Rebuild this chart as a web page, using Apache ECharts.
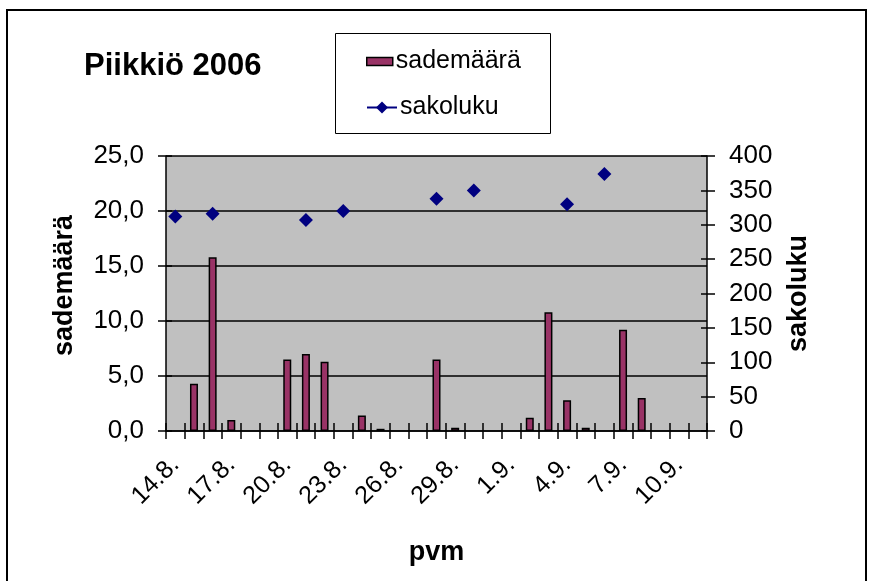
<!DOCTYPE html>
<html>
<head>
<meta charset="utf-8">
<script src="https://cdn.jsdelivr.net/npm/echarts@6/dist/echarts.min.js"></script>
<style>
html,body{margin:0;padding:0;background:#fff;}
#c{width:870px;height:581px;}
</style>
</head>
<body>
<div id="c"></div>
<script>
// Categories: dates 14.8. – 11.9.
const categories = ['14.8.','15.8.','16.8.','17.8.','18.8.','19.8.','20.8.','21.8.','22.8.','23.8.','24.8.','25.8.','26.8.','27.8.','28.8.','29.8.','30.8.','31.8.','1.9.','2.9.','3.9.','4.9.','5.9.','6.9.','7.9.','8.9.','9.9.','10.9.','11.9.'];
// sademäärä (mm), left axis
const sademaara = [null,4.3,15.8,1.0,null,null,6.5,7.0,6.3,null,1.4,0.2,null,null,6.5,0.3,null,null,null,1.2,10.8,2.8,0.3,null,9.2,3.0,null,null,null];
// sakoluku, right axis
const sakoluku = [312,null,316,null,null,null,null,307,null,320,null,null,null,null,338,null,350,null,null,null,null,330,null,374,null,null,null,null,null];
const leftTicks = {min:0, max:25, interval:5};
const rightTicks = {min:0, max:400, interval:50};

const FONT = 'Arial, "Liberation Sans", sans-serif';
const AX = '#000';
const chart = echarts.init(document.getElementById('c'), null, {renderer:'canvas'});

function tickOnlyY(base, pos){
  return {
    type:'value', min:base.min, max:base.max, interval:base.interval, position:pos,
    axisLine:{show:false}, axisLabel:{show:false}, splitLine:{show:false},
    axisTick:{show:true, inside:true, length:6, lineStyle:{color:AX, width:1.5}}
  };
}

chart.setOption({
  backgroundColor:'#ffffff',
  animation:false,
  title:{
    text:'Piikkiö 2006', left:79, top:46,
    textStyle:{fontFamily:FONT, fontSize:31, fontWeight:'bold', color:'#000'}
  },
  legend:[{
    orient:'vertical', left:366, top:49, padding:0,
    itemWidth:26, itemHeight:8, itemGap:0,
    textStyle:{fontFamily:FONT, fontSize:25, color:'#000', padding:[0,0,0,-2]},
    data:[{name:'sademäärä', icon:'rect', itemStyle:{color:'#993366', borderColor:'#000', borderWidth:1.5}}]
  },{
    orient:'vertical', left:366, top:95, padding:0,
    itemWidth:30, itemHeight:15, itemGap:0,
    textStyle:{fontFamily:FONT, fontSize:25, color:'#000', padding:[0,0,0,-2]},
    data:[{name:'sakoluku'}]
  }],
  graphic:[{
    type:'rect', shape:{x:7, y:10, width:859, height:600},
    style:{fill:'none', stroke:'#000', lineWidth:2}, silent:true
  },{
    type:'rect', shape:{x:335.5, y:33.5, width:215, height:100},
    style:{fill:'#fff', stroke:'#000', lineWidth:1}, silent:true, z:-1
  }],
  grid:{left:166, right:163, top:156, bottom:150, show:true, backgroundColor:'#c0c0c0', borderWidth:0},
  xAxis:[{
    type:'category', data:categories, boundaryGap:true,
    name:'pvm', nameLocation:'middle', nameGap:108,
    nameTextStyle:{fontFamily:FONT, fontSize:27, fontWeight:'bold', color:'#000'},
    axisLine:{lineStyle:{color:AX, width:1.5}},
    axisTick:{show:true, interval:0, length:8, lineStyle:{color:AX, width:1.5}},
    axisLabel:{interval:2, rotate:45, margin:30, fontFamily:FONT, fontSize:25, color:'#000'},
    splitLine:{show:false}
  },{
    type:'category', data:categories, boundaryGap:true, position:'bottom',
    axisLine:{show:false}, axisLabel:{show:false}, splitLine:{show:false},
    axisTick:{show:true, inside:true, interval:0, length:8, lineStyle:{color:AX, width:1.5}}
  }],
  yAxis:[{
    type:'value', min:leftTicks.min, max:leftTicks.max, interval:leftTicks.interval,
    position:'left',
    name:'sademäärä', nameLocation:'middle', nameGap:88, nameRotate:90,
    nameTextStyle:{fontFamily:FONT, fontSize:27, fontWeight:'bold', color:'#000', padding:[0,0,0,16]},
    axisLine:{show:true, lineStyle:{color:AX, width:1.5}},
    axisTick:{show:true, length:8, lineStyle:{color:AX, width:1.5}},
    axisLabel:{margin:22, fontFamily:FONT, fontSize:26, color:'#000',
      formatter:v=>v.toFixed(1).replace('.',',')},
    splitLine:{show:true, lineStyle:{color:'#000', width:1.5}}
  },{
    type:'value', min:rightTicks.min, max:rightTicks.max, interval:rightTicks.interval,
    position:'right',
    name:'sakoluku', nameLocation:'middle', nameGap:78, nameRotate:90,
    nameTextStyle:{fontFamily:FONT, fontSize:27, fontWeight:'bold', color:'#000'},
    axisLine:{show:true, lineStyle:{color:AX, width:1.5}},
    axisTick:{show:true, length:8, lineStyle:{color:AX, width:1.5}},
    axisLabel:{margin:22, fontFamily:FONT, fontSize:26, color:'#000'},
    splitLine:{show:false}
  }, tickOnlyY(leftTicks,'left'), tickOnlyY(rightTicks,'right')],
  series:[{
    name:'sademäärä', type:'bar', yAxisIndex:0, data:sademaara, barWidth:8,
    itemStyle:{color:'#993366', borderColor:'#000', borderWidth:1.5}
  },{
    name:'sakoluku', type:'line', yAxisIndex:1, data:sakoluku,
    connectNulls:false, showAllSymbol:true, symbol:'diamond', symbolSize:14,
    lineStyle:{color:'#000080', width:2},
    itemStyle:{color:'#000080'}
  }]
});
</script>
</body>
</html>
